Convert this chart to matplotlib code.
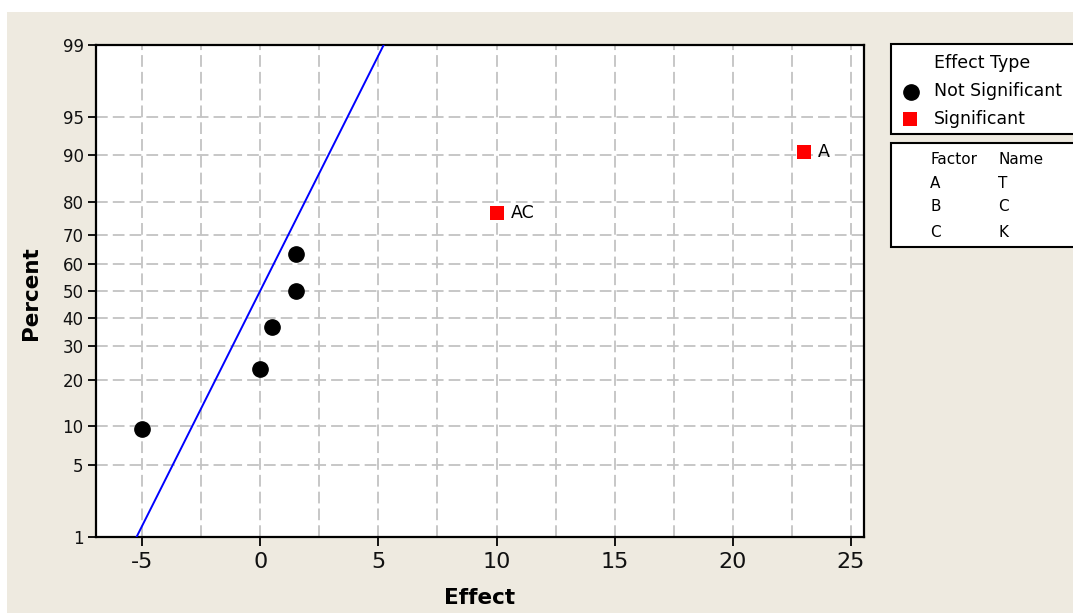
import numpy as np
import matplotlib
matplotlib.use("Agg")
import matplotlib.pyplot as plt
from matplotlib.patches import Rectangle
from matplotlib.lines import Line2D
from matplotlib.ticker import FixedLocator, MultipleLocator
from statistics import NormalDist

plt.rcParams["font.family"] = ["DejaVu Sans"]
plt.rcParams["axes.unicode_minus"] = False

# Standardized effects and their normal plotting positions (percent)
effects = [-5.0, 0.0, 0.5, 1.5, 1.5, 10.0, 23.0]
percents = [9.5, 23.0, 36.5, 50.0, 63.5, 77.0, 90.5]
significant = [False, False, False, False, False, True, True]
term_labels = ["", "", "", "", "", "AC", "A"]

# Lenth's pseudo standard error used for the reference line
pse = 2.25
line_percents = [1.0, 99.0]

y_ticks = [1, 5, 10, 20, 30, 40, 50, 60, 70, 80, 90, 95, 99]
x_ticks = [-5, 0, 5, 10, 15, 20, 25]

factor_rows = [("A", "T"), ("B", "C"), ("C", "K")]

_nd = NormalDist()
_ppf = np.vectorize(lambda p: _nd.inv_cdf(min(max(p / 100.0, 1e-9), 1 - 1e-9)), otypes=[float])
_cdf = np.vectorize(lambda z: _nd.cdf(z) * 100.0, otypes=[float])


def fwd(p):
    return _ppf(np.asarray(p, dtype=float))


def inv(z):
    return _cdf(np.asarray(z, dtype=float))


W, H = 1073, 614
fig = plt.figure(figsize=(W / 100, H / 100), dpi=100)
fig.patch.set_facecolor("white")
bg = "#EEEAE0"
fig.add_artist(Rectangle((7 / W, 1 / H), 1.0, 1 - 13 / H, transform=fig.transFigure,
                         facecolor=bg, edgecolor="none", zorder=0))

ax_l, ax_r, ax_t, ax_b = 96, 864, 44.5, 537
ax = fig.add_axes([ax_l / W, 1 - ax_b / H, (ax_r - ax_l) / W, (ax_b - ax_t) / H])
ax.set_facecolor("white")
ax.set_yscale("function", functions=(fwd, inv))
ax.set_ylim(1, 99)
ax.set_xlim(-6.95, 25.55)

ax.yaxis.set_major_locator(FixedLocator(y_ticks))
ax.set_yticklabels([str(t) for t in y_ticks])
ax.yaxis.set_minor_locator(FixedLocator([]))
ax.xaxis.set_major_locator(FixedLocator(x_ticks))
ax.set_xticklabels([str(t) for t in x_ticks])
ax.xaxis.set_minor_locator(MultipleLocator(2.5))

grid_kw = dict(color="#C3C3C3", linewidth=1.3, linestyle=(0, (6.5, 2.8)))
ax.grid(True, which="major", axis="both", **grid_kw)
ax.grid(True, which="minor", axis="x", **grid_kw)
ax.set_axisbelow(True)

for s in ax.spines.values():
    s.set_linewidth(1.6)
    s.set_color("black")

ax.tick_params(axis="y", which="major", direction="out", length=6, width=1.3,
               labelsize=12, pad=3, colors="black", labelcolor="#111111")
ax.tick_params(axis="x", which="major", direction="out", length=6.5, width=1.3,
               labelsize=16, pad=4, colors="black", labelcolor="#111111")
ax.tick_params(axis="x", which="minor", length=0)

# Reference line through zero with slope set by the PSE
line_x = [pse * _nd.inv_cdf(p / 100.0) for p in line_percents]
ax.plot(line_x, line_percents, color="#0000FF", linewidth=1.4, zorder=3)

eff = np.array(effects)
pct = np.array(percents)
sig = np.array(significant)
ax.plot(eff[~sig], pct[~sig], linestyle="none", marker="o", markersize=11,
        color="black", zorder=4)
ax.plot(eff[sig], pct[sig], linestyle="none", marker="s", markersize=9.5,
        color="#FF0000", markeredgewidth=0, zorder=4)
for x, y, lab in zip(effects, percents, term_labels):
    if lab:
        ax.annotate(lab, (x, y), xytext=(10, 0), textcoords="offset points",
                    ha="left", va="center", fontsize=12.5, color="black")

ax.set_xlabel("Effect", fontsize=15.5, fontweight="bold")
ax.xaxis.set_label_coords(0.5, (ax_b - 598) / (ax_b - ax_t))
ax.xaxis.label.set_va("center")
ax.set_ylabel("Percent", fontsize=15.5, fontweight="bold")
ax.yaxis.set_label_coords((31 - ax_l) / (ax_r - ax_l), 0.5 - (293 - (ax_t + ax_b) / 2) / (ax_b - ax_t))
ax.yaxis.label.set_va("center")


def fx(px):
    return px / W


def fy(py):
    return 1 - py / H


# Effect type legend box
fig.add_artist(Rectangle((fx(890.5), fy(134)), 0.3, (134 - 44.5) / H, transform=fig.transFigure,
                         facecolor="white", edgecolor="black", linewidth=1.5, zorder=2))
fig.text(fx(934), fy(63.5), "Effect Type", fontsize=12.5, va="center", ha="left", zorder=3)
fig.add_artist(Line2D([fx(910.5)], [fy(91.5)], marker="o", markersize=11, color="black",
                      linestyle="none", transform=fig.transFigure, zorder=3))
fig.text(fx(934), fy(91.5), "Not Significant", fontsize=12.5, va="center", ha="left", zorder=3)
fig.add_artist(Line2D([fx(910)], [fy(119)], marker="s", markersize=9.5, color="#FF0000",
                      markeredgewidth=0, linestyle="none", transform=fig.transFigure, zorder=3))
fig.text(fx(934), fy(119), "Significant", fontsize=12.5, va="center", ha="left", zorder=3)

# Factor name table
fig.add_artist(Rectangle((fx(890.5), fy(246.5)), 0.3, (246.5 - 143) / H, transform=fig.transFigure,
                         facecolor="white", edgecolor="black", linewidth=1.5, zorder=2))
fig.text(fx(930), fy(159), "Factor", fontsize=11, va="center", ha="left", zorder=3)
fig.text(fx(998), fy(159), "Name", fontsize=11, va="center", ha="left", zorder=3)
for (f, n), py in zip(factor_rows, [183.5, 207, 232.5]):
    fig.text(fx(930), fy(py), f, fontsize=11, va="center", ha="left", zorder=3)
    fig.text(fx(998), fy(py), n, fontsize=11, va="center", ha="left", zorder=3)

fig.savefig("out.png", dpi=100, facecolor=fig.get_facecolor())
